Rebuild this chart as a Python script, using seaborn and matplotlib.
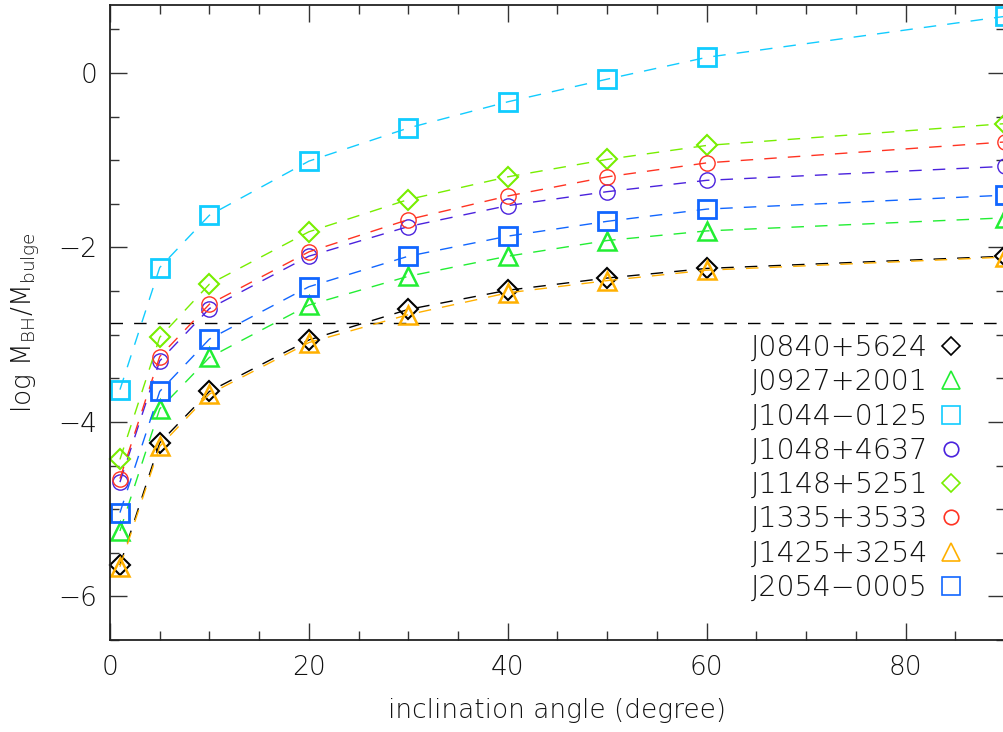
import pandas as pd
import matplotlib
matplotlib.use('Agg')
import matplotlib.pyplot as plt
from matplotlib.lines import Line2D
from matplotlib.ticker import MultipleLocator
import seaborn as sns

# inclination angles sampled for every quasar
angles = [1, 5, 10, 20, 30, 40, 50, 60, 90]

# log M_BH / M_bulge
j0840 = [-5.64, -4.24, -3.65, -3.06, -2.71, -2.49, -2.35, -2.24, -2.10]
j0927 = [-5.25, -3.85, -3.26, -2.66, -2.33, -2.10, -1.92, -1.81, -1.66]
j1044 = [-3.63, -2.23, -1.63, -1.01, -0.63, -0.33, -0.07, 0.18, 0.65]
j1048 = [-4.69, -3.30, -2.70, -2.10, -1.76, -1.52, -1.36, -1.23, -1.07]
j1148 = [-4.43, -3.03, -2.42, -1.82, -1.45, -1.19, -0.99, -0.83, -0.58]
j1335 = [-4.65, -3.25, -2.65, -2.05, -1.68, -1.41, -1.19, -1.03, -0.79]
j1425 = [-5.66, -4.28, -3.68, -3.09, -2.77, -2.52, -2.38, -2.26, -2.11]
j2054 = [-5.04, -3.65, -3.05, -2.45, -2.10, -1.87, -1.70, -1.56, -1.40]

names = ['J0840+5624', 'J0927+2001', 'J1044\u22120125', 'J1048+4637',
         'J1148+5251', 'J1335+3533', 'J1425+3254', 'J2054\u22120005']
series = [j0840, j0927, j1044, j1048, j1148, j1335, j1425, j2054]

local_ratio = -2.86

colors = ['#000000', '#22ee33', '#11ccff', '#4a22dd',
          '#77ee00', '#ff3322', '#ffb000', '#1166ff']
markers = ['D', '^', 's', 'o', 'D', 'o', '^', 's']
msizes = {'D': 10, '^': 13, 's': 13, 'o': 11}
mews = {'D': 1.5, '^': 1.8, 's': 2.0, 'o': 1.0}

sns.set_style('ticks')
plt.rcParams['font.family'] = ['DejaVu Sans']
plt.rcParams['font.weight'] = 'light'
plt.rcParams['axes.labelweight'] = 'light'
plt.rcParams['mathtext.default'] = 'regular'
plt.rcParams['text.color'] = '#111111'
plt.rcParams['axes.labelcolor'] = '#111111'
plt.rcParams['xtick.labelcolor'] = '#111111'
plt.rcParams['ytick.labelcolor'] = '#111111'

df = pd.DataFrame({'angle': angles * len(names),
                   'ratio': sum(series, []),
                   'name': [n for n in names for _ in angles]})

fig = plt.figure(figsize=(10.04, 7.32), dpi=100)
ax = fig.add_axes([110 / 1004, 1 - 640 / 732, 895 / 1004, 635 / 732])

ax.axhline(local_ratio, color='black', lw=1.0, linestyle=(0, (9, 8)), zorder=1)

for name, c, m in zip(names, colors, markers):
    sub = df[df['name'] == name]
    sns.lineplot(data=sub, x='angle', y='ratio', ax=ax, color=c,
                 linestyle=(0, (9, 8)), lw=1.0, marker=m, markersize=msizes[m],
                 markerfacecolor='none', markeredgecolor=c,
                 markeredgewidth=mews[m], clip_on=False, legend=False)

ax.set_xlim(0, 90)
ax.set_ylim(-6.5, 0.78)
ax.xaxis.set_major_locator(MultipleLocator(20))
ax.xaxis.set_minor_locator(MultipleLocator(5))
ax.yaxis.set_major_locator(MultipleLocator(2))
ax.yaxis.set_minor_locator(MultipleLocator(0.5))
ax.tick_params(which='both', direction='in', top=True, right=True,
               labelsize=19, color='#333333', width=1.0)
ax.tick_params(which='major', length=12.5)
ax.tick_params(which='minor', length=6.5)
ax.tick_params(axis='x', pad=11)
ax.tick_params(axis='y', pad=9)
for sp in ax.spines.values():
    sp.set_linewidth(1.3)
    sp.set_color('#222222')

ax.set_xlabel('inclination angle (degree)', fontsize=19, labelpad=13)
ax.set_ylabel(r'log M$_{\mathregular{BH}}$/M$_{\mathregular{bulge}}$', fontsize=19)
ax.yaxis.set_label_coords(-0.076, 0.5)

handles = [Line2D([], [], linestyle='none', marker=m, color=c,
                  markerfacecolor='none', markeredgecolor=c,
                  markersize=msizes[m] * 0.95, markeredgewidth=1.2)
           for c, m in zip(colors, markers)]
ax.legend(handles, names, loc='upper right', markerfirst=False, frameon=False,
          fontsize=20.5, handlelength=1.0, handletextpad=0.3, labelspacing=0.22,
          borderpad=0, borderaxespad=0,
          bbox_to_anchor=(965 / 1004, 1 - 334 / 732),
          bbox_transform=fig.transFigure)

fig.savefig('out.png', dpi=100)
